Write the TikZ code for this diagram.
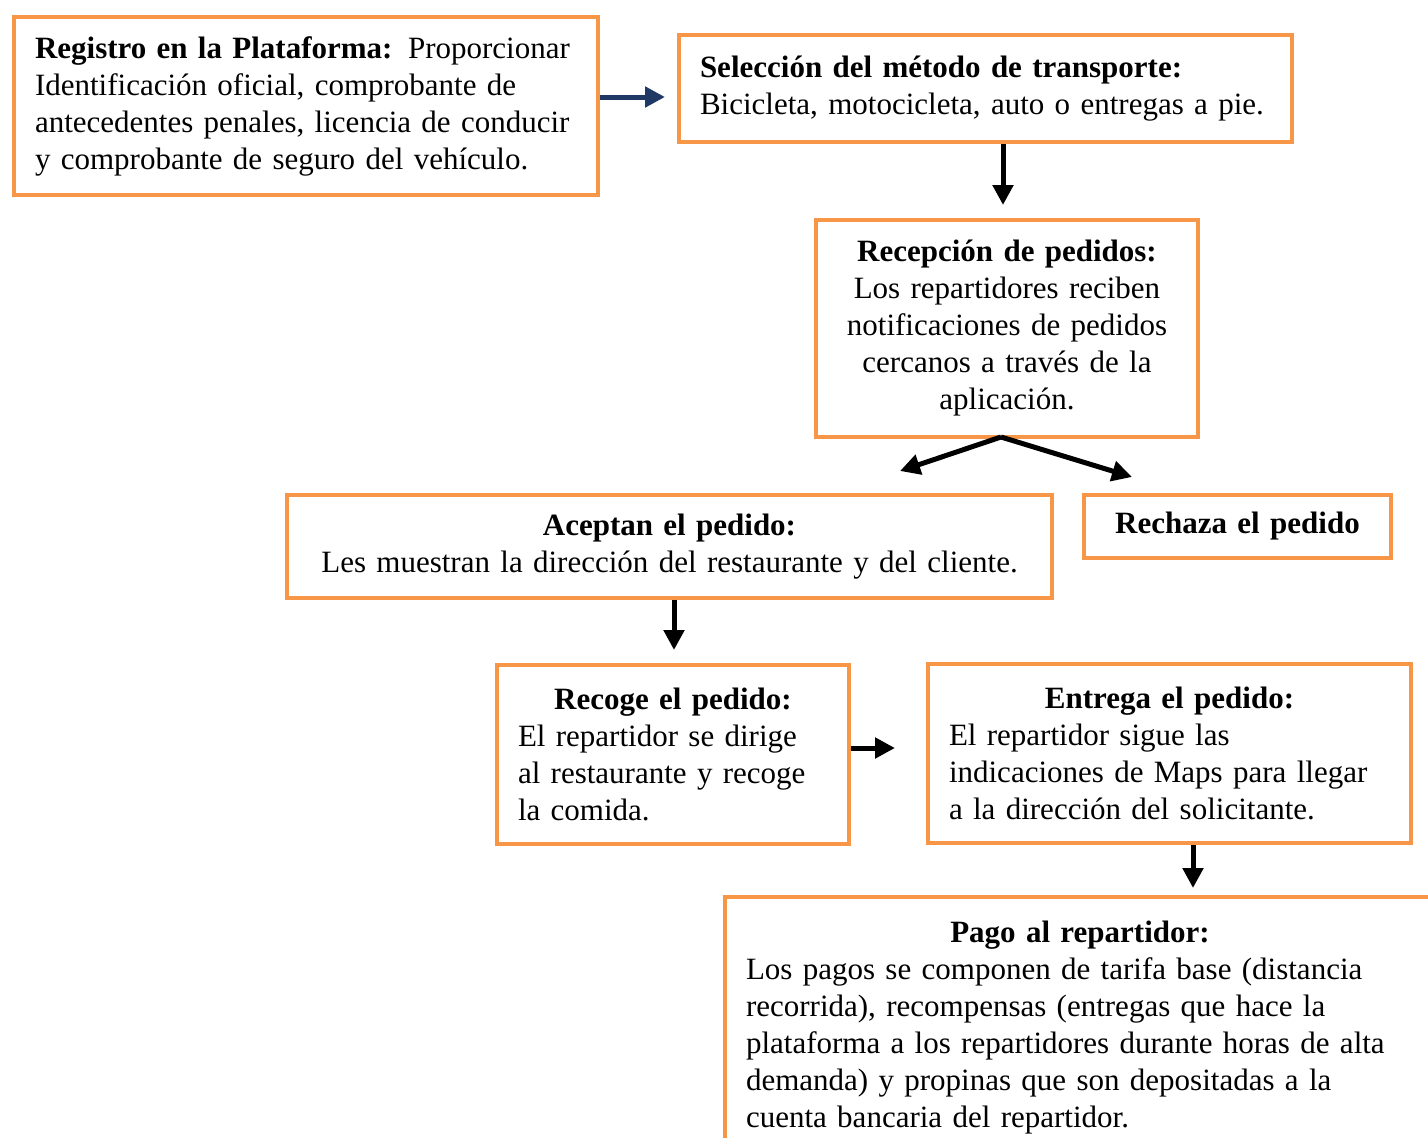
\documentclass[tikz,border=0pt]{standalone}
\usepackage{fontspec}
\setmainfont{Liberation Serif}
\usetikzlibrary{arrows.meta}
\definecolor{boxorange}{HTML}{F79646}
\definecolor{navy}{HTML}{1F3864}
\tikzset{
  box/.style={draw=boxorange, line width=4pt, fill=white, inner xsep=21pt, inner ysep=0pt,
    font=\fontsize{31}{37}\selectfont},
  arr/.style={line width=5pt, -{Triangle[length=20pt,width=20pt]}},
}
\begin{document}
\begin{tikzpicture}[x=1pt,y=-1pt]
\useasboundingbox (0,0) rectangle (1428,1138);
\clip (0,0) rectangle (1428,1138);
\node[box, minimum width=584pt, minimum height=178pt, text width=542pt, align=left] (reg) at (306,106)
  {\textbf{Registro en la Plataforma:} Proporcionar\\Identificación oficial, comprobante de\\antecedentes penales, licencia de conducir\\y comprobante de seguro del vehículo.};
\node[box, minimum width=613pt, minimum height=107pt, text width=571pt, align=left] (sel) at (985.5,88.5)
  {\textbf{Selección del método de transporte:}\\Bicicleta, motocicleta, auto o entregas a pie.};
\node[box, minimum width=372pt, minimum height=217pt, text width=340pt, align=center] (rec) at (1007,328.5)
  {\textbf{Recepción de pedidos:}\\Los repartidores reciben\\notificaciones de pedidos\\cercanos a través de la\\aplicación.};
\node[box, minimum width=765pt, minimum height=103pt, text width=723pt, align=center] (acp) at (669.5,546.5)
  {\textbf{Aceptan el pedido:}\\Les muestran la dirección del restaurante y del cliente.};
\node[box, minimum width=307pt, minimum height=63pt, text width=265pt, align=center] (rch) at (1237.5,526.5)
  {\textbf{Rechaza el pedido}};
\node[box, minimum width=352pt, minimum height=179pt, text width=310pt, align=left] (rcg) at (673,754.5)
  {\makebox[\linewidth]{\textbf{Recoge el pedido:}}\\El repartidor se dirige\\al restaurante y recoge\\la comida.};
\node[box, minimum width=483pt, minimum height=179pt, text width=441pt, align=left] (ent) at (1169.5,753.5)
  {\makebox[\linewidth]{\textbf{Entrega el pedido:}}\\El repartidor sigue las\\indicaciones de Maps para llegar\\a la dirección del solicitante.};
\node[box, minimum width=710pt, minimum height=262pt, text width=668pt, align=left] (pag) at (1080,1028)
  {\makebox[\linewidth]{\textbf{Pago al repartidor:}}\\Los pagos se componen de tarifa base (distancia\\recorrida), recompensas (entregas que hace la\\plataforma a los repartidores durante horas de alta\\demanda) y propinas que son depositadas a la\\cuenta bancaria del repartidor.};
\coordinate (a1) at (665,97);
\coordinate (a2) at (1003,205);
\coordinate (a3) at (1001,437);
\coordinate (a3l) at (900,471);
\coordinate (a3r) at (1132,477);
\coordinate (a4) at (674,650);
\coordinate (a5) at (895,748);
\coordinate (a6) at (1193,888);
\draw[arr, draw=navy, fill=navy] (reg.east |- a1) -- (a1);
\draw[arr] (sel.south -| a2) -- (a2);
\draw[arr] (a3) -- (a3l);
\draw[arr] (a3) -- (a3r);
\draw[arr] (acp.south -| a4) -- (a4);
\draw[arr] (rcg.east |- a5) -- (a5);
\draw[arr] (ent.south -| a6) -- (a6);
\end{tikzpicture}
\end{document}
